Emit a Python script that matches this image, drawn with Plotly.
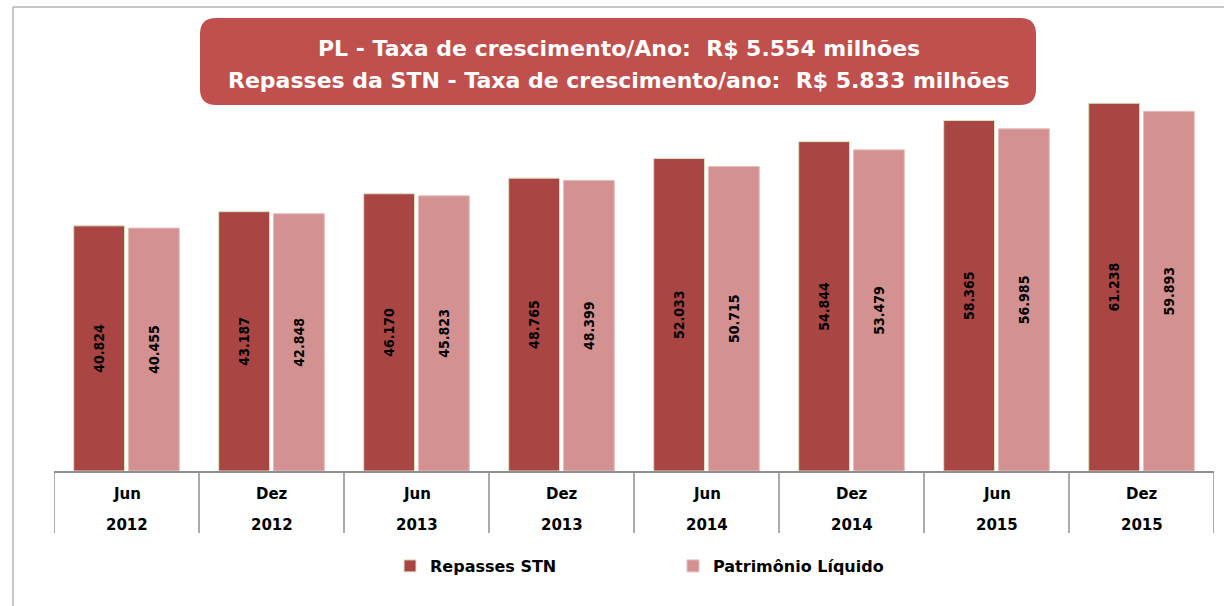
import plotly.graph_objects as go

months = ["Jun", "Dez", "Jun", "Dez", "Jun", "Dez", "Jun", "Dez"]
years = ["2012", "2012", "2013", "2013", "2014", "2014", "2015", "2015"]
repasses_stn = [40.824, 43.187, 46.170, 48.765, 52.033, 54.844, 58.365, 61.238]
patrimonio_liquido = [40.455, 42.848, 45.823, 48.399, 50.715, 53.479, 56.985, 59.893]
series_names = ["Repasses STN", "Patrimônio Líquido"]
title_lines = ["PL - Taxa de crescimento/Ano:  R$ 5.554 milhões",
               "Repasses da STN - Taxa de crescimento/ano:  R$ 5.833 milhões"]

categories = [f"{m} {y}" for m, y in zip(months, years)]

def fmt(v):
    return f"{v:.3f}"

DARK = "#A94644"
LIGHT = "#D39191"
GREY = "#8f8f8f"
LABEL_FONT = "DejaVu Sans Condensed, Liberation Sans Narrow, sans-serif"
TXT_FONT = "DejaVu Sans, sans-serif"

fig = go.Figure()
fig.add_trace(go.Bar(
    x=categories, y=repasses_stn, name=series_names[0],
    marker=dict(color=DARK, line=dict(color="#D7E4BD", width=1)),
    text=[fmt(v) for v in repasses_stn], textposition="inside",
    insidetextanchor="middle", textangle=-90,
    textfont=dict(color="black", size=14, family=LABEL_FONT, weight="bold"),
    hoverinfo="skip",
))
fig.add_trace(go.Bar(
    x=categories, y=patrimonio_liquido, name=series_names[1],
    marker=dict(color=LIGHT, line=dict(color="#E6BFBF", width=1)),
    text=[fmt(v) for v in patrimonio_liquido], textposition="inside",
    insidetextanchor="middle", textangle=-90,
    textfont=dict(color="black", size=14, family=LABEL_FONT, weight="bold"),
    hoverinfo="skip",
))

W, H = 1224, 606
L, R, T, B = 54, 10, 20, 135
pw, ph = W - L - R, H - T - B

def px_x(p):
    return (p - L) / pw

def px_y(p):
    return (H - B - p) / ph

shapes = []
# outer frame (left and top)
shapes.append(dict(type="line", xref="paper", yref="paper",
                   x0=px_x(13), x1=px_x(13), y0=px_y(7), y1=px_y(606),
                   line=dict(color=GREY, width=1)))
shapes.append(dict(type="line", xref="paper", yref="paper",
                   x0=px_x(13), x1=px_x(1224), y0=px_y(7), y1=px_y(7),
                   line=dict(color=GREY, width=1)))
# category dividers
n = len(categories)
for i in range(n + 1):
    shapes.append(dict(type="line", xref="x", yref="paper",
                       x0=i - 0.5, x1=i - 0.5, y0=0, y1=px_y(533),
                       line=dict(color=GREY, width=1.5)))

# rounded title box
bx0, bx1, by0, by1 = px_x(200), px_x(1036), px_y(105), px_y(18)
rx, ry = 16 / pw, 16 / ph
path = (f"M {bx0+rx},{by1} L {bx1-rx},{by1} Q {bx1},{by1} {bx1},{by1-ry} "
        f"L {bx1},{by0+ry} Q {bx1},{by0} {bx1-rx},{by0} "
        f"L {bx0+rx},{by0} Q {bx0},{by0} {bx0},{by0+ry} "
        f"L {bx0},{by1-ry} Q {bx0},{by1} {bx0+rx},{by1} Z")
shapes.append(dict(type="path", xref="paper", yref="paper", path=path,
                   fillcolor="#C0504D", line=dict(width=0), layer="below"))

annotations = []
for line, ypx in zip(title_lines, [48, 80]):
    annotations.append(dict(xref="paper", yref="paper", x=px_x(619),
                            y=px_y(ypx), xanchor="center", yanchor="middle",
                            showarrow=False, text=line,
                            font=dict(color="white", size=22, family=TXT_FONT, weight="bold")))
for i, (m, y) in enumerate(zip(months, years)):
    annotations.append(dict(xref="x", yref="paper", x=categories[i], y=px_y(494),
                            xanchor="center", yanchor="middle",
                            text=m, showarrow=False,
                            font=dict(size=15, color="black", family=TXT_FONT, weight="bold")))
    annotations.append(dict(xref="x", yref="paper", x=categories[i], y=px_y(525),
                            xanchor="center", yanchor="middle",
                            text=y, showarrow=False,
                            font=dict(size=15, color="black", family=TXT_FONT, weight="bold")))

ymax = ph / 6.005

fig.update_layout(
    width=W, height=H,
    margin=dict(l=L, r=R, t=T, b=B, autoexpand=False),
    paper_bgcolor="white", plot_bgcolor="white",
    barmode="group", bargap=0.245, bargroupgap=0.07,
    xaxis=dict(showticklabels=False, showgrid=False, zeroline=False,
               showline=True, linecolor=GREY, linewidth=1.5,
               range=[-0.5, n - 0.5], fixedrange=True),
    yaxis=dict(range=[0, ymax], showticklabels=False, showgrid=False,
               zeroline=False, showline=False, fixedrange=True),
    showlegend=True,
    legend=dict(orientation="h", x=px_x(390), y=px_y(566), xanchor="left", yanchor="middle",
                font=dict(size=16, color="black", family=TXT_FONT, weight="bold"),
                entrywidth=238, itemclick=False, itemdoubleclick=False),
    shapes=shapes, annotations=annotations,
    uniformtext=dict(minsize=8, mode="show"),
)

fig.write_html("out.html", config={"displayModeBar": False},
               post_script="document.body.style.margin='0';document.body.style.overflow='hidden';")
